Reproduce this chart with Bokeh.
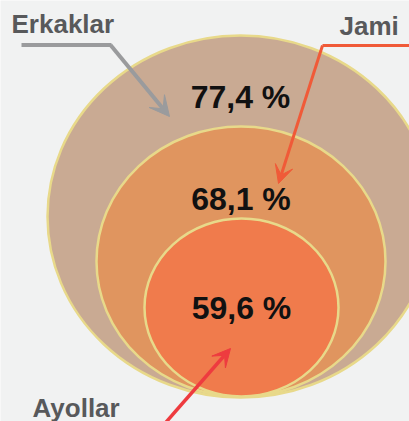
from bokeh.plotting import figure
from bokeh.models import Range1d, Arrow, VeeHead, ColumnDataSource
from bokeh.core.properties import value
from bokeh.embed import file_html
from bokeh.resources import INLINE

# ---- data ----
groups = ["Erkaklar", "Jami", "Ayollar"]
rates = [77.4, 68.1, 59.6]
rate_labels = ["77,4 %", "68,1 %", "59,6 %"]

# ---- layout (pixel-like coordinates, y downward) ----
cx = [240.0, 240.5, 241.0]
cy = [216.0, 261.0, 307.0]
ew = [386.0, 289.0, 194.0]
eh = [362.0, 270.0, 178.0]
fills = ["#C9AA93", "#E0955F", "#F07B4C"]
label_y = [96.0, 198.0, 307.0]

BG = "#F1F2F2"
W, H = 409, 421
p = figure(width=W, height=H, output_backend="svg", toolbar_location=None,
           x_range=Range1d(0, W), y_range=Range1d(H, 0),
           min_border=0, background_fill_color=BG, border_fill_color=BG)
p.axis.visible = False
p.grid.visible = False
p.outline_line_color = None

src = ColumnDataSource(dict(x=cx, y=cy, w=ew, h=eh, fill=fills))
p.ellipse(x="x", y="y", width="w", height="h", source=src, fill_color="fill",
          line_color="#E8D98A", line_width=2.5)

# value labels
vsrc = ColumnDataSource(dict(x=cx, y=label_y, t=rate_labels))
p.text(x="x", y="y", text="t", source=vsrc, text_align="center", text_baseline="middle",
       text_font=value("Liberation Sans"), text_font_style="bold",
       text_font_size="32px", text_color="#111111")

# group labels
gsrc = ColumnDataSource(dict(x=[11, 339, 32], y=[23, 25, 407], t=groups))
p.text(x="x", y="y", text="t", source=gsrc, text_align="left", text_baseline="middle",
       text_font=value("Liberation Sans"), text_font_style="bold",
       text_font_size="26px", text_color="#58595B")

# arrows
gray = "#9A9B9D"
p.line([21, 111], [44.5, 44.5], line_color=gray, line_width=4)
p.add_layout(Arrow(x_start=110, y_start=44.5, x_end=169, y_end=116,
                   line_color=gray, line_width=4,
                   end=VeeHead(size=20, fill_color=gray, line_color=gray, line_width=1)))

orange = "#F05A38"
p.line([322, 412], [45, 45], line_color=orange, line_width=3)
p.add_layout(Arrow(x_start=322, y_start=45, x_end=278, y_end=183,
                   line_color=orange, line_width=3,
                   end=VeeHead(size=18, fill_color=orange, line_color=orange, line_width=1)))

red = "#EE3B3F"
p.add_layout(Arrow(x_start=160, y_start=428, x_end=230, y_end=348,
                   line_color=red, line_width=3.5,
                   end=VeeHead(size=18, fill_color=red, line_color=red, line_width=1)))

html = file_html(p, INLINE)
html = html.replace("<body>", '<body style="background-color:%s">' % BG, 1)
open("out.html", "w").write(html)
